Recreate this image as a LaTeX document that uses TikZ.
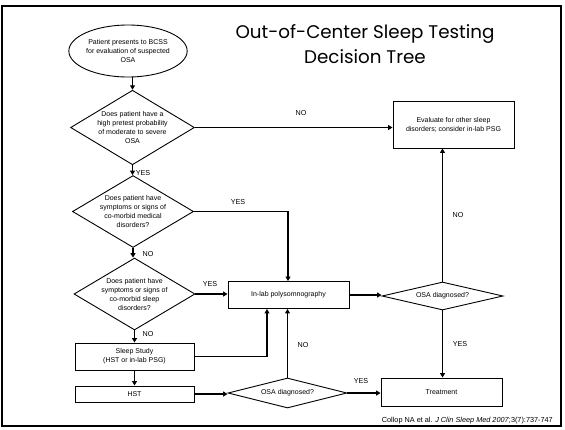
\documentclass[tikz,border=0pt]{standalone}
\usepackage{fontspec}
\setmainfont{Liberation Sans}
\newfontfamily\titlefont{Poppins}
\usetikzlibrary{shapes.geometric, arrows.meta, positioning}

\begin{document}
\begin{tikzpicture}[x=1pt, y=-1pt,
		>={Triangle[length=4.5pt,width=5pt]},
		every node/.style={font=\fontsize{7}{9}\selectfont, align=center},
		decision/.style={draw, diamond, line width=0.9pt, inner sep=0pt, aspect=1.66, minimum width=121pt, minimum height=73pt},
		process/.style={draw, rectangle, line width=0.9pt, inner sep=0pt, minimum width=120pt},
		lbl/.style={font=\fontsize{7.2}{8}\selectfont, inner sep=0pt},
		flow/.style={->, line width=1.1pt}]
		\useasboundingbox (0,0) rectangle (565,429);
		% Slide frame and title
		\draw[line width=2pt] (2,6) rectangle (561,426);
		\node[font=\titlefont\fontsize{18.3}{25}\selectfont] (title) at (365,44) {Out-of-Center Sleep Testing\\Decision Tree};
		% Left column: screening questions
		\node[draw, ellipse, line width=0.9pt, inner sep=0pt, minimum width=118pt, minimum height=52pt] (start) at (128,51) {Patient presents to BCSS\\for evaluation of suspected\\OSA};
		\node[decision] (pretest) at (132.5,127.5) {Does patient have a\\high pretest probability\\of moderate to severe\\OSA};
		\node[decision, minimum height=67pt] (medical) at (133,211.5) {Does patient have\\symptoms or signs of\\co-morbid medical\\disorders?};
		\node[decision, minimum height=68pt] (sleep) at (134.5,294) {Does patient have\\symptoms or signs of\\co-morbid sleep\\disorders?};
		\node[process, minimum width=119pt, minimum height=27pt] (study) at (134.5,356.5) {Sleep Study\\(HST or in-lab PSG)};
		\node[process, minimum width=119pt, minimum height=16pt] (hst) at (134.5,394) {HST};
		% Middle and right: testing and outcome
		\node[process, minimum width=121pt, minimum height=27pt] (inlab) at (288.5,295) {In-lab polysomnography};
		\node[decision, aspect=4.2, minimum width=119pt, minimum height=30pt] (diagB) at (287.5,393) {OSA diagnosed?};
		\node[decision, aspect=4.2, minimum width=121pt, minimum height=28pt] (diagA) at (442.5,296) {OSA diagnosed?};
		\node[process, minimum width=121pt, minimum height=47pt] (other) at (453.5,124.5) {Evaluate for other sleep\\disorders; consider in-lab PSG};
		\node[process, minimum width=121pt, minimum height=28pt] (treat) at (441.5,392) {Treatment};
		% Connectors
		\draw[flow] (start.south -| pretest.north) -- (pretest.north);
		\draw[flow] (pretest.south) -- (pretest.south |- medical.north);
		\draw[flow] (medical.south) -- (medical.south |- sleep.north);
		\draw[flow] (sleep.south) -- (sleep.south |- study.north);
		\draw[flow] (study.south) -- (hst.north);
		\draw[flow] (pretest.east) -- (pretest.east -| other.west);
		\draw[flow] (medical.east) -| ([xshift=-0.5pt]inlab.north);
		\draw[flow] (sleep.east) -- (sleep.east -| inlab.west);
		\draw[flow] (study.east) -| ([xshift=-21.5pt]inlab.south);
		\draw[flow] (diagB.north) -- (diagB.north |- inlab.south);
		\draw[flow] (hst.east) -- (hst.east -| diagB.west);
		\draw[flow] (diagB.east) -- (diagB.east -| treat.west);
		\draw[flow] (inlab.east) -- (inlab.east -| diagA.west);
		\draw[flow] (diagA.north) -- (diagA.north |- other.south);
		\draw[flow] (diagA.south) -- (diagA.south |- treat.north);
		% Branch labels
		\node[lbl] (noPre) at (301,113) {NO};
		\node[lbl] (yesPre) at (143,173) {YES};
		\node[lbl] (yesMed) at (238,202) {YES};
		\node[lbl] (noMed) at (148,254) {NO};
		\node[lbl] (yesSlp) at (210,284) {YES};
		\node[lbl] (noSlp) at (148,334) {NO};
		\node[lbl] (noB) at (303,345) {NO};
		\node[lbl] (yesB) at (361,381) {YES};
		\node[lbl] (yesA) at (460,344) {YES};
		\node[lbl] (noA) at (458,215) {NO};
		% Reference
		\node[anchor=east, font=\fontsize{7.3}{8}\selectfont, inner sep=0pt] (cite) at (553,421) {Collop NA et al. \textit{J Clin Sleep Med 2007};3(7):737-747};
\end{tikzpicture}
\end{document}
